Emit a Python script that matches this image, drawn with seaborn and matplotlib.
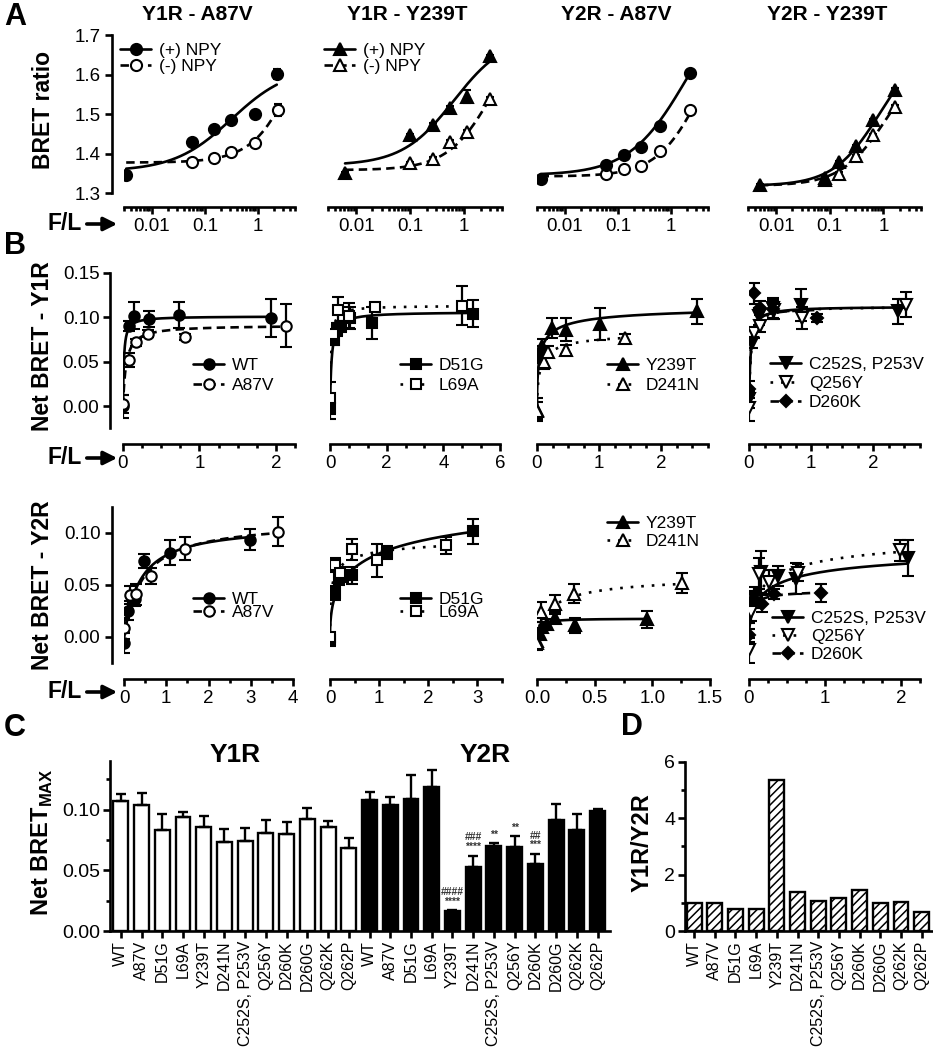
import numpy as np
import pandas as pd
import matplotlib
matplotlib.use("Agg")
import matplotlib.pyplot as plt
from matplotlib.lines import Line2D
from matplotlib.patches import FancyArrowPatch
from matplotlib.ticker import (MultipleLocator, AutoMinorLocator, LogLocator,
                               NullFormatter, FuncFormatter, FormatStrFormatter)
import seaborn as sns

# ---------------- data ----------------
# A: BRET ratio vs F/L (log), (+) NPY filled / (-) NPY open
a_titles = ["Y1R - A87V", "Y1R - Y239T", "Y2R - A87V", "Y2R - Y239T"]
a_markers = ["o", "^", "o", "^"]

a_plus_x = [[0.0033, 0.058, 0.15, 0.31, 0.89, 2.27],
            [0.0062, 0.098, 0.26, 0.54, 1.14, 3.0],
            [0.0035, 0.059, 0.13, 0.27, 0.62, 2.3],
            [0.005, 0.083, 0.147, 0.31, 0.64, 1.63]]
a_plus_y = [[1.345, 1.429, 1.461, 1.486, 1.501, 1.601],
            [1.351, 1.446, 1.472, 1.514, 1.544, 1.646],
            [1.336, 1.370, 1.396, 1.417, 1.469, 1.604],
            [1.319, 1.338, 1.379, 1.419, 1.484, 1.562]]
a_plus_err = [[0.004, 0.003, 0.003, 0.004, 0.004, 0.012],
              [0.003, 0.004, 0.004, 0.005, 0.016, 0.004],
              [0.003, 0.003, 0.003, 0.003, 0.004, 0.004],
              [0.003, 0.003, 0.003, 0.003, 0.004, 0.004]]
a_minus_x = [[0.058, 0.15, 0.31, 0.89, 2.4],
             [0.098, 0.26, 0.54, 1.14, 3.0],
             [0.059, 0.13, 0.27, 0.62, 2.3],
             [0.083, 0.147, 0.31, 0.64, 1.63]]
a_minus_y = [[1.379, 1.389, 1.404, 1.427, 1.511],
             [1.376, 1.387, 1.429, 1.455, 1.539],
             [1.347, 1.362, 1.368, 1.407, 1.510],
             [1.332, 1.349, 1.394, 1.446, 1.518]]
a_minus_err = [[0.004, 0.003, 0.004, 0.004, 0.015],
               [0.003, 0.003, 0.004, 0.004, 0.004],
               [0.003, 0.003, 0.003, 0.003, 0.004],
               [0.003, 0.003, 0.003, 0.004, 0.004]]
# fitted curves: bottom, top, EC50, hill
a_plus_fit = [(1.355, 1.62, 0.32, 0.8), (1.37, 1.70, 0.65, 0.9),
              (1.345, 1.835, 2.0, 0.8), (1.318, 1.689, 0.87, 1.0)]
a_minus_fit = [(1.377, 2.088, 10.0, 1.0), (1.358, 1.783, 4.0, 1.0),
               (1.342, 1.808, 4.4, 1.0), (1.318, 1.672, 1.23, 1.0)]

# B: net BRET saturation curves
b_groups = [["WT", "A87V"], ["D51G", "L69A"], ["Y239T", "D241N"],
            ["C252S, P253V", "Q256Y", "D260K"]]

y1r_x = {"WT": [0, 0.08, 0.145, 0.34, 0.73, 1.94],
         "A87V": [0, 0.08, 0.167, 0.33, 0.816, 2.13],
         "D51G": [0, 0.15, 0.26, 0.38, 0.7, 1.47, 5.06],
         "L69A": [0, 0.12, 0.29, 0.68, 1.59, 4.65],
         "Y239T": [0, 0.054, 0.086, 0.247, 0.46, 1.01, 2.58],
         "D241N": [0, 0.11, 0.18, 0.46, 1.41],
         "C252S, P253V": [0, 0.048, 0.156, 0.387, 0.83, 2.4],
         "Q256Y": [0, 0.075, 0.17, 0.4, 0.855, 2.52],
         "D260K": [0, 0.075, 0.17, 0.39, 1.1]}
y1r_y = {"WT": [0.0, 0.090, 0.1015, 0.098, 0.1026, 0.099],
         "A87V": [0.002, 0.052, 0.0717, 0.0814, 0.0776, 0.0903],
         "D51G": [-0.002, 0.0747, 0.086, 0.0896, 0.099, 0.0933, 0.1038],
         "L69A": [0.009, 0.081, 0.108, 0.1015, 0.111, 0.1127],
         "Y239T": [-0.004, 0.058, 0.067, 0.0877, 0.0858, 0.0922, 0.1064],
         "D241N": [-0.005, 0.050, 0.061, 0.0635, 0.0765],
         "C252S, P253V": [0.0075, 0.071, 0.1008, 0.110, 0.1138, 0.1064],
         "Q256Y": [-0.002, 0.082, 0.0896, 0.1075, 0.099, 0.114],
         "D260K": [0.0187, 0.1269, 0.110, 0.1093, 0.099]}
y1r_err = {"WT": [0.013, 0.006, 0.015, 0.009, 0.015, 0.021],
           "A87V": [0.010, 0.008, 0.004, 0.004, 0.003, 0.024],
           "D51G": [0.012, 0.006, 0.007, 0.006, 0.012, 0.018, 0.015],
           "L69A": [0.018, 0.005, 0.015, 0.014, 0.004, 0.022],
           "Y239T": [0.013, 0.010, 0.008, 0.011, 0.013, 0.018, 0.014],
           "D241N": [0.010, 0.008, 0.006, 0.005, 0.004],
           "C252S, P253V": [0.010, 0.006, 0.010, 0.012, 0.018, 0.014],
           "Q256Y": [0.015, 0.005, 0.006, 0.010, 0.012, 0.014],
           "D260K": [0.010, 0.012, 0.008, 0.010, 0.005]}
y1r_fit = {"WT": (0, 0.101, 0.012, 1.0), "A87V": (0, 0.091, 0.04, 1.0),
           "D51G": (0, 0.106, 0.06, 1.0), "L69A": (0, 0.113, 0.035, 1.0),
           "Y239T": (0, 0.115, 0.05, 0.6), "D241N": (0, 0.085, 0.06, 0.7),
           "C252S, P253V": (0, 0.112, 0.025, 1.0), "Q256Y": (0, 0.112, 0.03, 1.0),
           "D260K": (0, 0.110, 0.02, 1.0)}

y2r_x = {"WT": [0, 0.1, 0.26, 0.47, 1.1, 2.98],
         "A87V": [0, 0.14, 0.28, 0.65, 1.44, 3.65],
         "D51G": [0, 0.1, 0.19, 0.27, 0.44, 1.17, 2.91],
         "L69A": [0, 0.1, 0.2, 0.44, 0.95, 2.37],
         "Y239T": [0, 0.023, 0.046, 0.087, 0.153, 0.327, 0.95],
         "D241N": [0, 0.032, 0.153, 0.318, 1.26],
         "C252S, P253V": [0, 0.062, 0.159, 0.383, 0.612, 2.09],
         "Q256Y": [0, 0.026, 0.128, 0.26, 0.643, 1.99],
         "D260K": [0, 0.062, 0.172, 0.335, 0.943]}
y2r_y = {"WT": [-0.006, 0.025, 0.0365, 0.073, 0.0808, 0.0933],
         "A87V": [0.008, 0.040, 0.0407, 0.0583, 0.0846, 0.101],
         "D51G": [-0.003, 0.042, 0.0558, 0.058, 0.059, 0.0808, 0.1016],
         "L69A": [0.0, 0.069, 0.061, 0.084, 0.0734, 0.0878],
         "Y239T": [-0.0045, 0.003, 0.0093, 0.0125, 0.018, 0.011, 0.0167],
         "D241N": [-0.006, 0.0237, 0.0317, 0.0413, 0.0516],
         "C252S, P253V": [0.0253, 0.038, 0.0622, 0.0583, 0.0558, 0.0756],
         "Q256Y": [-0.0131, 0.0237, 0.0606, 0.0526, 0.0615, 0.083],
         "D260K": [0.0013, 0.0365, 0.0317, 0.0413, 0.042]}
y2r_err = {"WT": [0.010, 0.009, 0.007, 0.007, 0.012, 0.010],
           "A87V": [0.010, 0.009, 0.010, 0.008, 0.011, 0.014],
           "D51G": [0.006, 0.007, 0.006, 0.005, 0.008, 0.006, 0.012],
           "L69A": [0.004, 0.007, 0.006, 0.010, 0.016, 0.008],
           "Y239T": [0.006, 0.005, 0.005, 0.005, 0.004, 0.007, 0.008],
           "D241N": [0.007, 0.010, 0.008, 0.009, 0.010],
           "C252S, P253V": [0.012, 0.010, 0.020, 0.010, 0.015, 0.017],
           "Q256Y": [0.012, 0.009, 0.015, 0.012, 0.008, 0.010],
           "D260K": [0.006, 0.006, 0.008, 0.005, 0.009]}
y2r_fit = {"WT": (0, 0.108, 0.38, 1.0), "A87V": (0, 0.112, 0.45, 1.0),
           "D51G": (0, 0.16, 1.0, 0.5), "L69A": (0, 0.10, 0.05, 0.5),
           "Y239T": (-0.003, 0.0175, 0.02, 1.0), "D241N": (0, 0.06, 0.15, 0.8),
           "C252S, P253V": (0, 0.09, 0.25, 0.6), "Q256Y": (0, 0.105, 0.25, 0.6),
           "D260K": (0, 0.045, 0.03, 0.8)}

# C: Net BRETmax bars, D: Y1R/Y2R ratio
c_labels = ["WT", "A87V", "D51G", "L69A", "Y239T", "D241N", "C252S, P253V",
            "Q256Y", "D260K", "D260G", "Q262K", "Q262P"]
c_y1r = [0.107, 0.104, 0.083, 0.0935, 0.086, 0.0735, 0.0745, 0.0805, 0.0795,
         0.092, 0.086, 0.068]
c_y1r_err = [0.006, 0.010, 0.013, 0.0045, 0.0085, 0.0105, 0.0105, 0.011, 0.010,
             0.009, 0.005, 0.009]
c_y2r = [0.108, 0.104, 0.109, 0.119, 0.0165, 0.053, 0.070, 0.069, 0.055, 0.0917,
         0.083, 0.099]
c_y2r_err = [0.0065, 0.006, 0.0195, 0.0135, 0.0006, 0.009, 0.0022, 0.009, 0.0085,
             0.013, 0.013, 0.0015]
c_y2r_sig = ["", "", "", "", "####\n****", "###\n****", "**", "**", "##\n***",
             "", "", ""]
d_ratio = [0.98, 1.0, 0.77, 0.78, 5.34, 1.37, 1.05, 1.16, 1.44, 1.0, 1.04, 0.67]

# ---------------- style ----------------
W, H = 933, 1050
LW = 1.9
sns.set_theme(style="ticks", rc={"axes.edgecolor": "black", "xtick.color": "black",
                                 "ytick.color": "black", "text.color": "black",
                                 "axes.labelcolor": "black", "axes.linewidth": LW})
plt.rcParams["font.family"] = ["Liberation Sans", "DejaVu Sans"]
plt.rcParams["mathtext.fontset"] = "custom"
plt.rcParams["mathtext.bf"] = "Liberation Sans:bold"
plt.rcParams["hatch.linewidth"] = 1.1

mut_style = {"WT": ("o", True, "-", 7.5), "A87V": ("o", False, (0, (3.2, 2.0)), 7.5),
             "D51G": ("s", True, "-", 7), "L69A": ("s", False, (0, (1.0, 3.0)), 7),
             "Y239T": ("^", True, "-", 8), "D241N": ("^", False, (0, (1.0, 3.0)), 8),
             "C252S, P253V": ("v", True, "-", 8),
             "Q256Y": ("v", False, (0, (1.0, 3.0)), 8),
             "D260K": ("D", True, (0, (3.2, 2.0)), 6)}
DASH = (0, (3.2, 2.0))

fig = plt.figure(figsize=(W / 100, H / 100), dpi=100)


def add_ax(l, r, t, b):
    return fig.add_axes([l / W, 1 - b / H, (r - l) / W, (b - t) / H])


def ftext(x, y, s, **kw):
    fig.text(x / W, 1 - y / H, s, **kw)


def hill(p, x):
    b, t, ec, h = p
    x = np.asarray(x, float)
    return b + (t - b) * x ** h / (ec ** h + x ** h)


def draw_curve(ax, xs, p, ls):
    sns.lineplot(x=xs, y=hill(p, xs), ax=ax, color="black", lw=1.9,
                 estimator=None, sort=False)
    ax.lines[-1].set_linestyle(ls)


def draw_points(ax, x, y, err, marker, filled, ms, cap):
    ax.errorbar(x, y, yerr=err, fmt=marker, ms=ms, mfc="black" if filled else "white",
                mec="black", mew=1.5, ecolor="black", elinewidth=1.6, capsize=cap,
                capthick=1.6, zorder=3)


def handle(marker, filled, ls, ms):
    return Line2D([], [], color="black", lw=1.9, ls=ls, marker=marker, ms=ms,
                  mfc="black" if filled else "white", mec="black", mew=1.5)


def frame(ax, show_y, loff, boff):
    sns.despine(ax=ax, offset={"left": loff, "bottom": boff})
    ax.tick_params(which="major", length=5, width=LW, labelsize=13.5, pad=3)
    ax.tick_params(which="minor", length=3, width=LW)
    if not show_y:
        ax.spines["left"].set_visible(False)
        ax.tick_params(axis="y", which="both", left=False, labelleft=False)
    ax.set_xlabel("")
    ax.set_ylabel("")


def place_legend(ax, handles, labels, x, top, spacing, fs=12.5):
    ax.legend(handles, labels, loc="upper left", bbox_to_anchor=(x / W, 1 - top / H),
              bbox_transform=fig.transFigure, frameon=False, borderpad=0,
              borderaxespad=0, handlelength=1.8, handletextpad=0.45,
              labelspacing=spacing, fontsize=fs)


def fl_label(y):
    ftext(82, y, "F/L", ha="right", va="center", fontsize=16.5, fontweight="bold")
    fig.add_artist(FancyArrowPatch((84 / W, 1 - y / H), (120 / W, 1 - y / H),
                                   transform=fig.transFigure, arrowstyle="-|>",
                                   mutation_scale=20, lw=2.6, color="black"))


# ---------------- A ----------------
A_X = [(124, 295), (328, 502), (537, 708), (748, 921)]
for i in range(4):
    ax = add_ax(A_X[i][0], A_X[i][1], 35, 193)
    ax.set_xscale("log")
    x0 = a_plus_x[i][0]
    draw_curve(ax, np.geomspace(x0, max(a_plus_x[i]), 200), a_plus_fit[i], "-")
    draw_curve(ax, np.geomspace(x0, max(a_minus_x[i]), 200), a_minus_fit[i], DASH)
    draw_points(ax, a_minus_x[i], a_minus_y[i], a_minus_err[i], a_markers[i], False, 8, 3)
    draw_points(ax, a_plus_x[i], a_plus_y[i], a_plus_err[i], a_markers[i], True, 8, 3)
    ax.set_xlim(0.003, 5)
    ax.set_ylim(1.3, 1.7)
    ax.xaxis.set_major_locator(LogLocator(base=10))
    ax.xaxis.set_minor_locator(LogLocator(base=10, subs=np.arange(2, 10)))
    ax.xaxis.set_minor_formatter(NullFormatter())
    ax.xaxis.set_major_formatter(FuncFormatter(lambda v, p: f"{v:g}"))
    ax.yaxis.set_major_locator(MultipleLocator(0.1))
    ax.yaxis.set_major_formatter(FormatStrFormatter("%.1f"))
    frame(ax, i == 0, 9, 10)
    if i < 2:
        place_legend(ax, [handle(a_markers[i], True, "-", 8),
                          handle(a_markers[i], False, DASH, 8)],
                     ["(+) NPY", "(-) NPY"], A_X[i][0] - 4, 43, 0.05)
    ftext([197, 407, 616, 827][i], 15, a_titles[i], ha="center", va="center",
          fontsize=15, fontweight="bold")

# ---------------- B ----------------
B_ROWS = [
    dict(rec=(y1r_x, y1r_y, y1r_err, y1r_fit), t=272.7, b=428.3, ylim=(-0.025, 0.15),
         xs=[(123, 295), (330, 500), (537, 708), (749, 920)],
         xmax=[2.25, 6, 2.75, 2.75], major=[1, 2, 1, 1], minor=[4, 3, 4, 4],
         fmt=["%d", "%d", "%d", "%d"], boff=11, fl=458,
         leg=[(193, 358, 0.27), (400, 358, 0.27), (607, 358, 0.27), (770, 357, 0.22)]),
    dict(rec=(y2r_x, y2r_y, y2r_err, y2r_fit), t=506.7, b=662.7, ylim=(-0.025, 0.125),
         xs=[(124, 293), (330, 502), (537, 710), (749, 920)],
         xmax=[4, 3.5, 1.5, 2.25], major=[1, 1, 0.5, 1], minor=[2, 2, 2, 4],
         fmt=["%d", "%d", "%.1f", "%d"], boff=12, fl=692,
         leg=[(193, 592, -0.12), (400, 592, -0.12), (607, 516, 0.18), (772, 611, 0.16)]),
]
for row in B_ROWS:
    xd, yd, ed, fd = row["rec"]
    for i in range(4):
        ax = add_ax(row["xs"][i][0], row["xs"][i][1], row["t"], row["b"])
        names = b_groups[i]
        for n in names:
            xmax_n = max(xd[n])
            grid = np.r_[0, np.geomspace(xmax_n * 1e-4, xmax_n, 400)]
            draw_curve(ax, grid, fd[n], mut_style[n][2])
        for n in names:
            mk, filled, ls, ms = mut_style[n]
            draw_points(ax, xd[n], yd[n], ed[n], mk, filled, ms, 4.5)
        ax.set_xlim(0, row["xmax"][i])
        ax.set_ylim(*row["ylim"])
        ax.xaxis.set_major_locator(MultipleLocator(row["major"][i]))
        ax.xaxis.set_minor_locator(AutoMinorLocator(row["minor"][i]))
        ax.xaxis.set_major_formatter(FormatStrFormatter(row["fmt"][i]))
        ax.yaxis.set_major_locator(MultipleLocator(0.05))
        ax.yaxis.set_major_formatter(FormatStrFormatter("%.2f"))
        frame(ax, i == 0, 9, row["boff"])
        lx, ly, sp = row["leg"][i]
        place_legend(ax, [handle(mut_style[n][0], mut_style[n][1], mut_style[n][2],
                                 mut_style[n][3]) for n in names],
                     names, lx, ly, sp, fs=12.5)
    fl_label(row["fl"])

fl_label(224)

# ---------------- C ----------------
axc = add_ax(110, 610, 761, 931)
c_df = pd.DataFrame({"pos": np.arange(24), "val": c_y1r + c_y2r,
                     "rec": ["Y1R"] * 12 + ["Y2R"] * 12})
sns.barplot(data=c_df, x="pos", y="val", hue="rec",
            palette={"Y1R": "white", "Y2R": "black"}, edgecolor="black",
            linewidth=1.7, width=0.72, saturation=1, legend=False, ax=axc)
c_err = c_y1r_err + c_y2r_err
axc.errorbar(np.arange(24), c_df["val"], yerr=[np.zeros(24), c_err], fmt="none",
             ecolor="black", elinewidth=1.7, capsize=3.6, capthick=1.7, zorder=1)
for j, s in enumerate(c_y2r_sig):
    if s:
        axc.text(12 + j, c_y2r[j] + c_y2r_err[j] + 0.003, s, ha="center", va="bottom",
                 fontsize=7.5, fontweight="bold", color="#333333", linespacing=0.95)
axc.set_xlim(-0.52, 23.6)
axc.set_ylim(0, 0.14)
axc.yaxis.set_major_locator(MultipleLocator(0.05))
axc.yaxis.set_minor_locator(MultipleLocator(0.025))
axc.yaxis.set_major_formatter(FormatStrFormatter("%.2f"))
axc.set_xticks(np.arange(24))
axc.set_xticklabels(c_labels * 2, rotation=90, fontsize=11.5)
sns.despine(ax=axc)
axc.tick_params(which="major", length=5, width=LW, pad=2)
axc.tick_params(axis="y", labelsize=14)
axc.tick_params(which="minor", length=3, width=LW)
axc.set_xlabel("")
axc.set_ylabel("")
ftext(235, 755, "Y1R", ha="center", va="center", fontsize=19, fontweight="bold")
ftext(485, 755, "Y2R", ha="center", va="center", fontsize=19, fontweight="bold")

# ---------------- D ----------------
axd = add_ax(685, 932, 761.7, 931)
sns.barplot(x=np.arange(12), y=d_ratio, color="white", edgecolor="black",
            linewidth=1.7, width=0.72, saturation=1, hatch="////", ax=axd)
axd.set_xlim(-0.44, 11.5)
axd.set_ylim(0, 6)
axd.yaxis.set_major_locator(MultipleLocator(2))
axd.yaxis.set_minor_locator(MultipleLocator(1))
axd.set_xticks(np.arange(12))
axd.set_xticklabels(c_labels, rotation=90, fontsize=11.5)
sns.despine(ax=axd)
axd.tick_params(which="major", length=5, width=LW, pad=2)
axd.tick_params(axis="y", labelsize=14)
axd.tick_params(which="minor", length=3, width=LW)
axd.set_xlabel("")
axd.set_ylabel("")

# ---------------- labels ----------------
ftext(43, 110, "BRET ratio", rotation=90, ha="center", va="center",
      fontsize=16.5, fontweight="bold")
ftext(43, 346, "Net BRET - Y1R", rotation=90, ha="center", va="center",
      fontsize=16.5, fontweight="bold")
ftext(43, 585, "Net BRET - Y2R", rotation=90, ha="center", va="center",
      fontsize=16.5, fontweight="bold")
ftext(42, 842, r"Net BRET$_{\mathbf{MAX}}$", rotation=90, ha="center", va="center",
      fontsize=17, fontweight="bold")
ftext(642, 843, "Y1R/Y2R", rotation=90, ha="center", va="center",
      fontsize=17, fontweight="bold")
for letter, (lx, ly) in {"A": (15, 17), "B": (15, 246), "C": (15, 728),
                         "D": (632, 727)}.items():
    ftext(lx, ly, letter, ha="center", va="center", fontsize=22, fontweight="bold")

fig.savefig("out.png", dpi=100)
